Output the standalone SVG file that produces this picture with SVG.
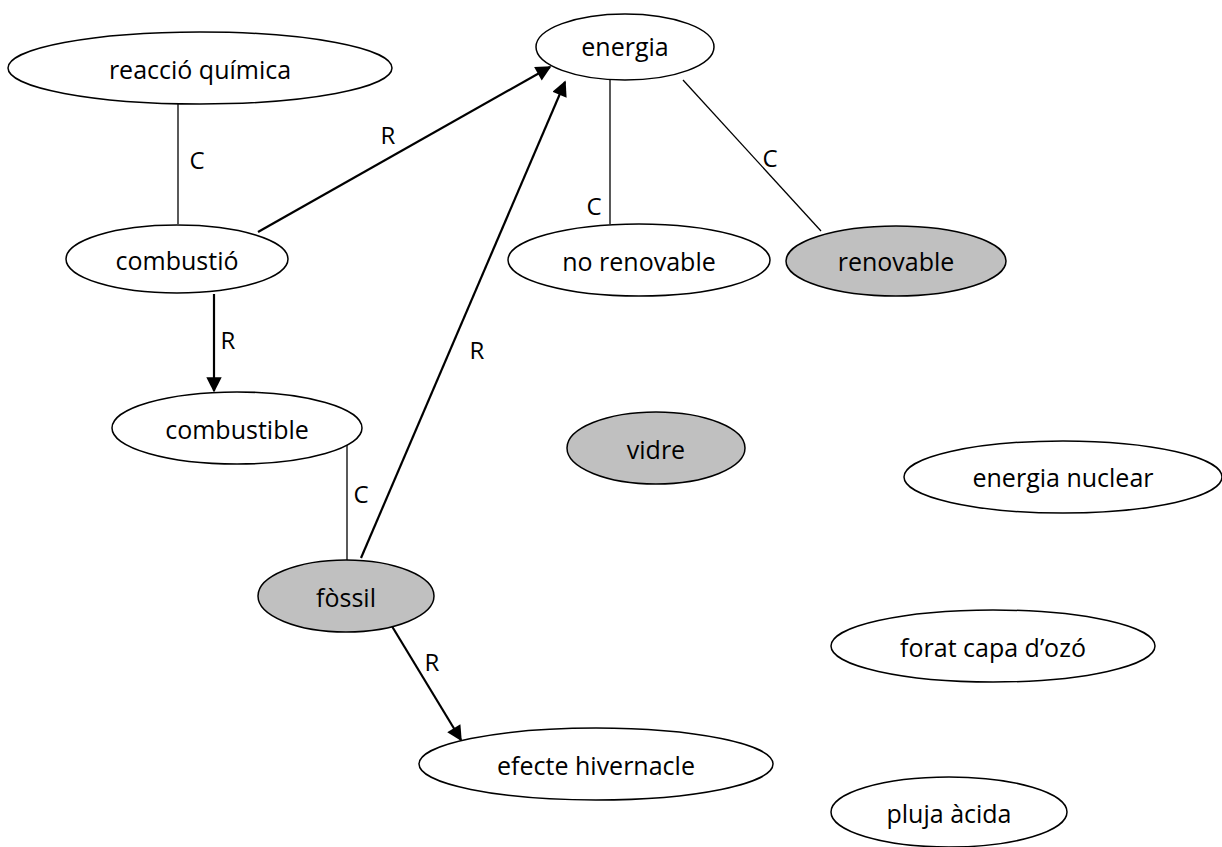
<svg xmlns="http://www.w3.org/2000/svg" width="1222" height="847" viewBox="0 0 1222 847">
  <style>
    .node ellipse { stroke: #000; stroke-width: 1.5; }
    .plain { fill: #fff; }
    .shaded { fill: #c0c0c0; }
    text { font-family: "Open Sans", "Liberation Sans", sans-serif; font-size: 25px; fill: #000; }
    .node text { text-anchor: middle; dominant-baseline: central; }
    .lbl { text-anchor: middle; dominant-baseline: central; font-size: 24px; }
    .c { stroke: #000; stroke-width: 1.3; fill: none; }
    .r { stroke: #000; stroke-width: 2.2; fill: none; marker-end: url(#head); }
  </style>
  <defs>
    <marker id="head" viewBox="0 0 10 10" refX="9" refY="5" markerWidth="7.5" markerHeight="7" markerUnits="strokeWidth" orient="auto">
      <path d="M0,0 L10,5 L0,10 z" fill="#000"/>
    </marker>
  </defs>
  <rect width="1222" height="847" fill="#fff"/>

  <!-- connectors -->
  <g id="connectors">
    <line class="c" x1="178" y1="103" x2="178" y2="224"/>
    <text class="lbl" x="197" y="159">C</text>
    <line class="r" x1="258" y1="232" x2="550" y2="67"/>
    <text class="lbl" x="388" y="134">R</text>
    <line class="r" x1="361" y1="558" x2="565" y2="82"/>
    <text class="lbl" x="477" y="349">R</text>
    <line class="c" x1="610" y1="80" x2="610" y2="224"/>
    <text class="lbl" x="594" y="205">C</text>
    <line class="c" x1="683" y1="80" x2="821" y2="231"/>
    <text class="lbl" x="770" y="157">C</text>
    <line class="r" x1="214" y1="294" x2="214" y2="391"/>
    <text class="lbl" x="228" y="339">R</text>
    <line class="c" x1="347" y1="440" x2="347" y2="560"/>
    <text class="lbl" x="361" y="493">C</text>
    <line class="r" x1="390" y1="623" x2="461" y2="740"/>
    <text class="lbl" x="432" y="661">R</text>
  </g>

  <g id="reaccio-quimica" class="node">
    <ellipse class="plain" cx="200" cy="68" rx="192" ry="36"/>
    <text x="200" y="69">reacció química</text>
  </g>
  <g id="combustio" class="node">
    <ellipse class="plain" cx="177" cy="259" rx="111" ry="34"/>
    <text x="177" y="260">combustió</text>
  </g>
  <g id="energia" class="node">
    <ellipse class="plain" cx="625" cy="47" rx="89" ry="33"/>
    <text x="625" y="46">energia</text>
  </g>
  <g id="no-renovable" class="node">
    <ellipse class="plain" cx="639" cy="260" rx="131" ry="36"/>
    <text x="639" y="261">no renovable</text>
  </g>
  <g id="renovable" class="node">
    <ellipse class="shaded" cx="896" cy="261" rx="110" ry="35"/>
    <text x="896" y="261">renovable</text>
  </g>
  <g id="combustible" class="node">
    <ellipse class="plain" cx="237" cy="428" rx="125" ry="36"/>
    <text x="237" y="429">combustible</text>
  </g>
  <g id="fossil" class="node">
    <ellipse class="shaded" cx="346" cy="596" rx="88" ry="36"/>
    <text x="346" y="597">fòssil</text>
  </g>
  <g id="vidre" class="node">
    <ellipse class="shaded" cx="656" cy="448" rx="89" ry="36"/>
    <text x="656" y="449">vidre</text>
  </g>
  <g id="energia-nuclear" class="node">
    <ellipse class="plain" cx="1063" cy="477" rx="159" ry="36"/>
    <text x="1063" y="477">energia nuclear</text>
  </g>
  <g id="forat-capa-ozo" class="node">
    <ellipse class="plain" cx="993" cy="646" rx="162" ry="36"/>
    <text x="993" y="647">forat capa d’ozó</text>
  </g>
  <g id="efecte-hivernacle" class="node">
    <ellipse class="plain" cx="596" cy="764" rx="177" ry="36"/>
    <text x="596" y="765">efecte hivernacle</text>
  </g>
  <g id="pluja-acida" class="node">
    <ellipse class="plain" cx="949" cy="812" rx="118" ry="35"/>
    <text x="949" y="813">pluja àcida</text>
  </g>
</svg>
